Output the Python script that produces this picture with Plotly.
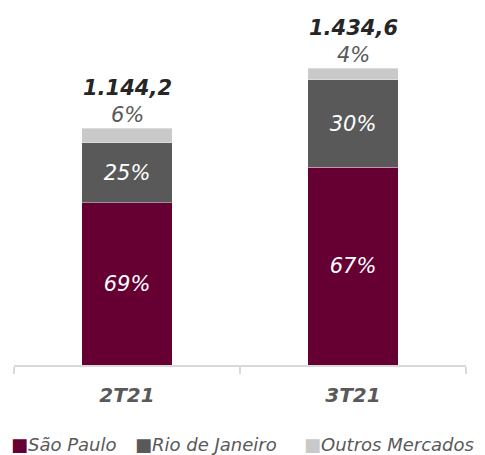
import plotly.graph_objects as go

categories = ["2T21", "3T21"]
sao_paulo = [785.0, 956.0]
rio = [290.0, 422.0]
outros = [69.2, 56.6]
totals = [1144.2, 1434.6]
total_labels = ["1.144,2", "1.434,6"]
sp_labels = ["69%", "67%"]
rio_labels = ["25%", "30%"]
outros_labels = ["6%", "4%"]
series_names = ["São Paulo", "Rio de Janeiro", "Outros Mercados"]

FONT = "DejaVu Sans"
C_SP = "#660033"
C_RJ = "#595959"
C_OM = "#C9C9C9"
GRAY_TXT = "#595959"
colors = [C_SP, C_RJ, C_OM]

fig = go.Figure()
for name, vals, labels, color in zip(series_names, [sao_paulo, rio, outros],
                                     [sp_labels, rio_labels, None], colors):
    fig.add_trace(go.Bar(
        x=categories, y=vals, name=name,
        marker=dict(color=color, line=dict(width=0.6, color="rgba(255,255,255,0.6)")),
        text=labels if labels else None,
        textposition="inside" if labels else "none",
        insidetextanchor="middle",
        textfont=dict(family=FONT, size=21, color="white", style="italic"),
        hoverinfo="skip",
    ))

annotations = []
for c, t, tl, ol in zip(categories, totals, total_labels, outros_labels):
    annotations.append(dict(
        x=c, y=t, xref="x", yref="y", text=ol, showarrow=False,
        yanchor="bottom", yshift=-1,
        font=dict(family=FONT, size=21, color=GRAY_TXT, style="italic"),
    ))
    annotations.append(dict(
        x=c, y=t, xref="x", yref="y", text=tl, showarrow=False,
        yanchor="bottom", yshift=26,
        font=dict(family=FONT, size=21, color="#262626", style="italic", weight="bold"),
    ))

# legend drawn as text items (square marker + label)
legend_x_px = [9, 133, 302]
for name, col, px in zip(series_names, colors, legend_x_px):
    annotations.append(dict(
        x=(px - 14) / 452, y=(365 - 444) / 345, xref="paper", yref="paper",
        text=f'<span style="color:{col};font-style:normal;font-size:18px">■</span>{name}',
        showarrow=False, xanchor="left", yanchor="middle",
        font=dict(family=FONT, size=18, color=GRAY_TXT, style="italic"),
    ))

fig.update_layout(
    barmode="stack",
    bargap=0.6,
    width=485, height=455,
    margin=dict(l=14, r=19, t=20, b=90),
    plot_bgcolor="white", paper_bgcolor="white",
    showlegend=False,
    annotations=annotations,
    xaxis=dict(
        range=[-0.5, 1.5], showline=True, linecolor="#D9D9D9", linewidth=1.5,
        ticks="outside", tickson="boundaries", ticklen=7, tickcolor="#D9D9D9", tickwidth=1.5,
        tickfont=dict(family=FONT, size=20, color=GRAY_TXT, style="italic", weight="bold"),
        ticklabelstandoff=11,
    ),
    yaxis=dict(range=[0, 1668], visible=False, showgrid=False, zeroline=False),
)

fig.write_html(
    "out.html",
    config={"displayModeBar": False},
    post_script="document.body.style.margin='0';document.body.style.overflow='hidden';",
)
